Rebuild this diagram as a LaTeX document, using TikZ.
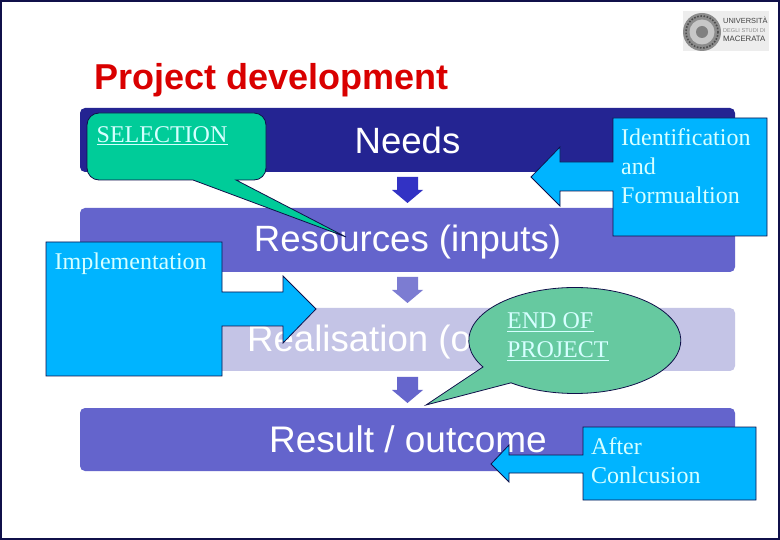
\documentclass[tikz,border=0pt]{standalone}
\usepackage{fontspec}
\setmainfont{Liberation Serif}
\newfontfamily\arialf{Liberation Sans}
\definecolor{barA}{HTML}{242492}
\definecolor{barB}{HTML}{6464CC}
\definecolor{barC}{HTML}{C4C4E6}
\definecolor{arrA}{HTML}{3232C4}
\definecolor{arrB}{HTML}{7C7CD2}
\definecolor{arrC}{HTML}{6666CC}
\definecolor{sky}{HTML}{00B4FF}
\definecolor{mint}{HTML}{00CC99}
\definecolor{sage}{HTML}{66C9A0}
\definecolor{pale}{HTML}{D6FFFF}
\definecolor{navy}{HTML}{10104A}
\tikzset{
  bar/.style={rounded corners=5pt,fill=#1,draw=none},
  bartext/.style={font=\arialf\fontsize{#1}{#1}\selectfont,text=white,inner sep=0pt,anchor=base},
  callout/.style={draw=navy,line width=0.8pt,fill=#1,line join=miter},
  note/.style={font=\fontsize{24}{29}\selectfont,text=pale,inner sep=0pt,anchor=north west,align=left},
  uline/.style={draw=pale,line width=1pt},
  logotext/.style={font=\arialf\fontsize{#1}{#1}\selectfont,text=black!75,inner sep=0pt,anchor=base west}
}
\begin{document}
\begin{tikzpicture}[x=1pt,y=-1pt]
\useasboundingbox (0,0) rectangle (780,540);
\fill[white] (0,0) rectangle (780,540);
\draw[navy,line width=1.6pt] (0.8,0.8) rectangle (779.2,539.2);
% logo
\fill[black!7] (683,11) rectangle (769,51);
\fill[black!45] (702,32) circle (19);
\fill[black!22] (702,32) circle (12.5);
\draw[black!70,line width=1.6pt,dash pattern=on 1.6pt off 1.6pt] (702,32) circle (16);
\fill[black!50] (702,32) circle (6);
\node[logotext=7.4] (logoA) at (723,24) {UNIVERSIT\`A};
\node[logotext=5.6,text=black!45] (logoB) at (723,33) {DEGLI STUDI DI};
\node[logotext=7.8] (logoC) at (723,42) {MACERATA};
% title
\node[font=\arialf\bfseries\fontsize{36}{36}\selectfont,text=red!85!black,inner sep=0pt,anchor=base west] (title) at (94,90) {Project development};
% bars
\path[bar=barA] (80,108) rectangle (735,172);
\path[bar=barB] (80,208) rectangle (735,272);
\path[bar=barC] (80,308) rectangle (735,371);
\path[bar=barB] (80,408) rectangle (735,471);
\node[bartext=36.6] (needs) at (407.5,154) {Needs};
\node[bartext=36.6] (res) at (407.5,252) {Resources (inputs)};
\node[bartext=36.6,anchor=base west] (real) at (247,352) {Realisation (o};
\node[bartext=37] (result) at (408,452) {Result / outcome};
% small down arrows
\foreach \y/\c in {177/arrA,277/arrB,377/arrC}
  \fill[\c] (397,\y) -- (418,\y) -- (418,\y+13) -- (423,\y+13) -- (407.5,\y+26) -- (392,\y+13) -- (397,\y+13) -- cycle;
% SELECTION callout
\draw[callout=mint] (99,113) -- (254,113) arc[start angle=-90,end angle=0,radius=12] -- (266,168) arc[start angle=0,end angle=90,radius=12] -- (236,180) -- (346,237) -- (193,180) -- (99,180) arc[start angle=90,end angle=180,radius=12] -- (87,125) arc[start angle=180,end angle=270,radius=12] -- cycle;
\node[note] (sel) at (96.5,126) {SELECTION};
\draw[uline] (96.5,145) -- (228,145);
% Implementation
\draw[callout=sky] (46,242) -- (222,242) -- (222,292) -- (283,292) -- (283,276) -- (316,309) -- (283,343) -- (283,326) -- (222,326) -- (222,376) -- (46,376) -- cycle;
\node[note] (impl) at (54.5,252.5) {Implementation};
% Identification
\draw[callout=sky] (613,118) -- (767,118) -- (767,236) -- (613,236) -- (613,191) -- (560,191) -- (560,206) -- (531,177) -- (560,147) -- (560,162) -- (613,162) -- cycle;
\node[note] (ident) at (621,128.5) {Identification\\and\\Formualtion};
% END OF PROJECT
\draw[callout=sage] (483,367) arc[start angle=150,end angle=487,x radius=106,y radius=53] -- (426,405) -- cycle;
\node[note] (endp) at (507,312.5) {END OF\\PROJECT};
\draw[uline] (507,332) -- (594,332);
\draw[uline] (507,361) -- (608.5,361);
% After
\draw[callout=sky] (583,427) -- (756,427) -- (756,500) -- (583,500) -- (583,473) -- (509,473) -- (509,482) -- (491,464) -- (509,445) -- (509,455) -- (583,455) -- cycle;
\node[note] (after) at (591,437.5) {After\\Conlcusion};
\end{tikzpicture}
\end{document}
